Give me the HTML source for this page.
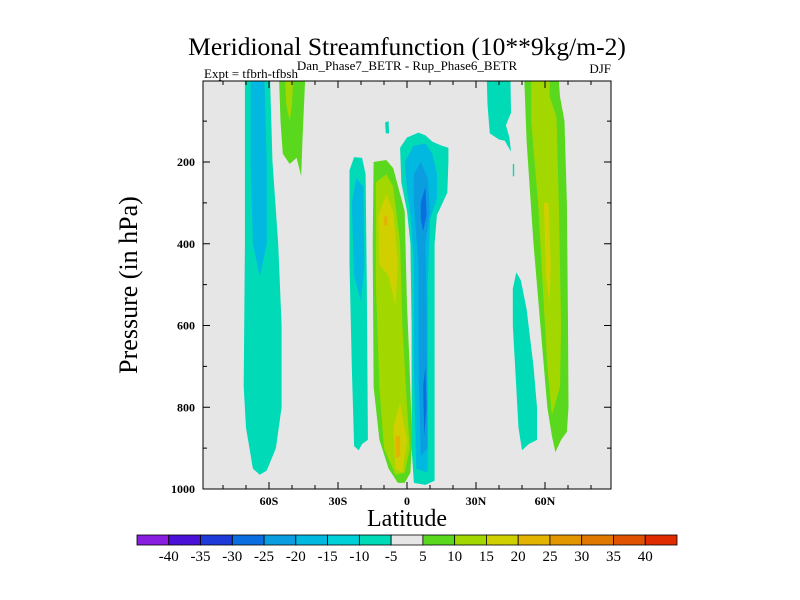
<!DOCTYPE html>
<html><head><meta charset="utf-8"><style>
body{margin:0;background:#fff;}
svg{display:block;font-family:"Liberation Serif",serif;}
</style></head><body>
<svg id="chart" width="800" height="600" viewBox="0 0 800 600" xmlns="http://www.w3.org/2000/svg">
<rect width="800" height="600" fill="#fff"/>
<text x="407" y="55" font-size="25.5" text-anchor="middle">Meridional Streamfunction (10**9kg/m-2)</text>
<text x="407" y="70" font-size="13" text-anchor="middle">Dan_Phase7_BETR - Rup_Phase6_BETR</text>
<text x="204" y="78" font-size="13">Expt = tfbrh-tfbsh</text>
<text x="611" y="73" font-size="13" text-anchor="end">DJF</text>
<rect x="203" y="81" width="408" height="408" fill="#e6e6e6"/>
<g id="fills"></g>
<rect x="203" y="81" width="408" height="408" fill="none" stroke="#000" stroke-width="1"/>
<g id="axes"></g>
<text transform="translate(137,285) rotate(-90)" font-size="26" text-anchor="middle">Pressure (in hPa)</text>
<text x="407" y="526" font-size="24" text-anchor="middle">Latitude</text>
<g id="cbar"></g>
</svg>
<script>
const levels=[-40,-35,-30,-25,-20,-15,-10,-5,5,10,15,20,25,30,35,40];
const levelColors=["#8a1ee0","#4a10d8","#1e3ad8","#0a6ee0","#0a9ee0","#00b8e0","#00d0d8","#00dab6","#e6e6e6","#5ad81e","#a2d800","#d0d000","#e2b400","#e29600","#e07800","#e05200","#e02a00"];
const xTicks=[-60,-30,0,30,60];
const xTickLabels=["60S","30S","0","30N","60N"];
const yTicks=[200,400,600,800,1000];
// contour regions: color index, polygon of [lat, pressure]
const regionLevels=[7,5,9,10,7,7,5,9,10,11,11,12,12,7,5,4,3,3,7,7,9,10,11,7];
const regionShapes=[
[[-70.5,0],[-59.5,0],[-58.5,200],[-56,400],[-54.5,600],[-54.5,800],[-57,900],[-61,955],[-64,965],[-67,950],[-70,850],[-71,750],[-70.5,400]],
[[-68,0],[-62,0],[-61,200],[-61,400],[-64,480],[-67,400],[-68,200]],
[[-55.6,0],[-44.3,0],[-45.5,150],[-46,235],[-48,190],[-51,205],[-54,180],[-55,100]],
[[-53,0],[-49.5,0],[-50,60],[-51,100],[-52.5,60]],
[[-9.5,103],[-8,100],[-7.8,130],[-9.2,130]],
[[-25,220],[-23,188],[-19.5,190],[-18,230],[-17.5,500],[-17,880],[-19.5,890],[-21,905],[-23,895],[-24,700],[-25,450]],
[[-24,300],[-22,240],[-19,260],[-18.5,450],[-20,540],[-23,480]],
[[-14.5,200],[-9,195],[-6,215],[-1,320],[0,550],[1,680],[2.2,880],[1.5,960],[-1,985],[-4,985],[-8,950],[-12,880],[-14.5,750],[-14.9,400]],
[[-13.5,250],[-9,230],[-6,260],[-3,400],[-2,600],[0,800],[1.2,900],[-1,960],[-5,965],[-10,900],[-12,750],[-13.5,500]],
[[-12.5,330],[-9,280],[-6,320],[-4,450],[-5,550],[-8,480],[-12,450]],
[[-6,850],[-3,790],[0,880],[-2,960],[-5,950]],
[[-10,335],[-8.5,330],[-8.5,355],[-10,355]],
[[-5,870],[-3,870],[-3,920],[-5,925]],
[[-3,165],[0,140],[5,128],[8,135],[11,150],[15,160],[18,165],[18,200],[17.5,275],[15.5,300],[13,330],[12,400],[12,700],[12,980],[8,990],[3,985],[2,900],[2,600],[1.5,400],[0,320],[-2.5,250]],
[[-1,200],[3,160],[8,155],[11,180],[13,230],[13,290],[10,340],[9,500],[9,960],[4,950],[3,700],[3,450],[1.5,330],[0,270]],
[[3,230],[6,200],[9,240],[10,320],[8,400],[8.5,550],[9,900],[6,920],[5,700],[5,450],[4,380],[3,300]],
[[6,300],[8,260],[8.5,330],[7,370],[6,340]],
[[7,750],[8,700],[8.5,800],[7.5,870]],
[[34.7,0],[45,0],[45.2,80],[43,110],[44.5,140],[45.2,175],[42.5,148],[40,145],[36,130],[35,60]],
[[46,510],[47.5,470],[49.5,490],[52,560],[55,700],[56.5,800],[56.5,880],[53,890],[50,905],[48.5,850],[47,700],[46,600]],
[[51,0],[66,0],[66.5,40],[68.5,100],[69.5,300],[70,600],[70.2,800],[69.5,860],[67,880],[64.5,910],[63,870],[61,800],[58,600],[55,400],[52,150]],
[[54,0],[62,0],[62,40],[65,90],[66,300],[67,600],[66.5,750],[63,820],[61,700],[59,500],[57,300],[54,100]],
[[59.5,300],[61.5,300],[62.5,450],[62,550],[60.5,480]],
[[46,205],[46.6,205],[46.6,235],[46,235]]
];
const NS="http://www.w3.org/2000/svg";
const X0=203,X1=611,Y0=81,Y1=489;
function xS(lat){return 407+lat*2.3;}
function yS(p){return 489-(1000-p)*0.40875;}
const fills=document.getElementById('fills');
const cp=document.createElementNS(NS,'clipPath');cp.setAttribute('id','clip');
const cr=document.createElementNS(NS,'rect');cr.setAttribute('x',X0);cr.setAttribute('y',Y0);cr.setAttribute('width',X1-X0);cr.setAttribute('height',Y1-Y0);
cp.appendChild(cr);fills.appendChild(cp);fills.setAttribute('clip-path','url(#clip)');
regionShapes.forEach((poly,i)=>{
  const el=document.createElementNS(NS,'polygon');
  el.setAttribute('points',poly.map(q=>xS(q[0]).toFixed(1)+','+yS(q[1]).toFixed(1)).join(' '));
  el.setAttribute('fill',levelColors[regionLevels[i]]);
  
  
  fills.appendChild(el);
});
const axes=document.getElementById('axes');
function line(x1,y1,x2,y2){const l=document.createElementNS(NS,'line');l.setAttribute('x1',x1);l.setAttribute('y1',y1);l.setAttribute('x2',x2);l.setAttribute('y2',y2);l.setAttribute('stroke','#000');l.setAttribute('stroke-width','1');


axes.appendChild(l);}
function txt(x,y,s,anchor,size,name){const t=document.createElementNS(NS,'text');t.setAttribute('x',x);t.setAttribute('y',y);t.setAttribute('text-anchor',anchor);t.setAttribute('font-size',size);t.setAttribute('font-weight','bold');t.textContent=s;


return t;}
for(let lat=-80;lat<=80;lat+=10){const x=xS(lat);const major=lat%30===0;const L=major?7:4;line(x,Y1,x,Y1-L);line(x,Y0,x,Y0+L);}
for(let p=100;p<1000;p+=100){const y=yS(p);const major=p%200===0;const L=major?7:4;line(X0,y,X0+L,y);line(X1,y,X1-L,y);}
xTicks.forEach((v,i)=>axes.appendChild(txt(xS(v),505,xTickLabels[i],'middle',12,'x-tick-label')));
yTicks.forEach(v=>axes.appendChild(txt(X0-8,yS(v)+4,String(v),'end',12,'y-tick-label')));
const cb=document.getElementById('cbar');
const bx=137,bxEnd=677,by=535,bh=10;
const bw=(bxEnd-bx)/levelColors.length;
levelColors.forEach((c,i)=>{const r=document.createElementNS(NS,'rect');r.setAttribute('x',bx+i*bw);r.setAttribute('y',by);r.setAttribute('width',bw);r.setAttribute('height',bh);r.setAttribute('fill',c);r.setAttribute('stroke','#000');r.setAttribute('stroke-width','0.8');


cb.appendChild(r);});
levels.forEach((v,i)=>{const t=txt(bx+(i+1)*bw,561,String(v),'middle',15,'colorbar-label');t.setAttribute('font-weight','normal');cb.appendChild(t);});
</script>
</body></html>
